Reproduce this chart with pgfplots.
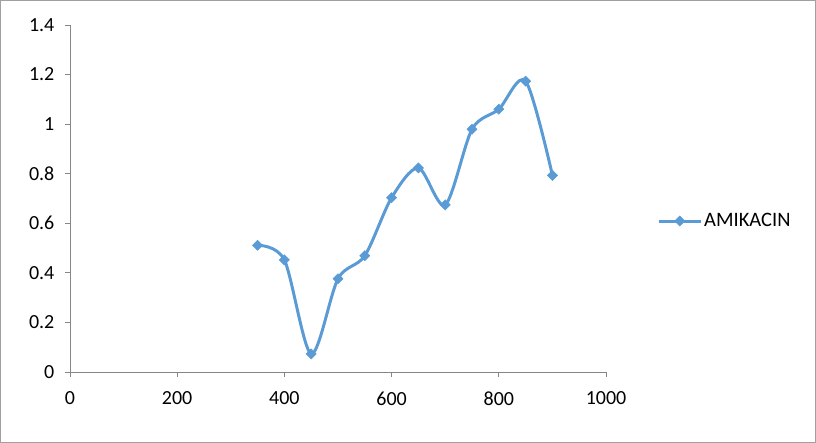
\documentclass[border=0pt]{standalone}
\usepackage{pgfplots}
\pgfplotsset{compat=1.18}
\usepackage{fontspec}
\setmainfont{Carlito}
\definecolor{ser}{RGB}{91,155,213}
\definecolor{axg}{RGB}{134,134,134}
\definecolor{frm}{RGB}{160,160,160}
\begin{document}
\begin{tikzpicture}[x=1pt,y=1pt]
\draw[frm, line width=0.75pt] (0.5,0.5) rectangle (815.5,442.5);
\begin{axis}[
  at={(70pt,71pt)}, anchor=south west,
  scale only axis, width=536pt, height=347pt,
  xmin=0, xmax=1000, ymin=0, ymax=1.4,
  xtick={0,200,400,600,800,1000},
  ytick={0,0.2,0.4,0.6,0.8,1,1.2,1.4},
  axis x line*=bottom, axis y line*=left,
  axis line style={axg, line width=0.75pt},
  tick style={axg, line width=0.75pt},
  tick align=outside, major tick length=5pt,
  /pgf/number format/assume math mode=true,
  /pgf/number format/1000 sep={},
  ticklabel style={font=\fontsize{20}{22}\selectfont, text=black},
  yticklabel style={xshift=-7pt},
  xticklabel style={yshift=-11pt},
  legend style={at={(1.095,0.435)}, anchor=west, draw=none, fill=none,
    font=\fontsize{20.5}{22}\selectfont, inner sep=0pt},
  legend cell align=left,
  legend image code/.code={\draw[#1, line width=3pt, mark repeat=2, mark phase=2] plot coordinates {(0pt,0pt) (21pt,0pt) (42pt,0pt)};},
]
\addplot[ser, line width=3pt, smooth, tension=0.5, mark=square*, mark size=3.6pt, mark options={rotate=45, line width=0.5pt}] coordinates {
(350,0.511) (400,0.452) (450,0.073) (500,0.376) (550,0.469) (600,0.703)
(650,0.823) (700,0.674) (750,0.979) (800,1.060) (850,1.173) (900,0.793)
};
\addlegendentry{AMIKACIN}
\end{axis}
\end{tikzpicture}
\end{document}
